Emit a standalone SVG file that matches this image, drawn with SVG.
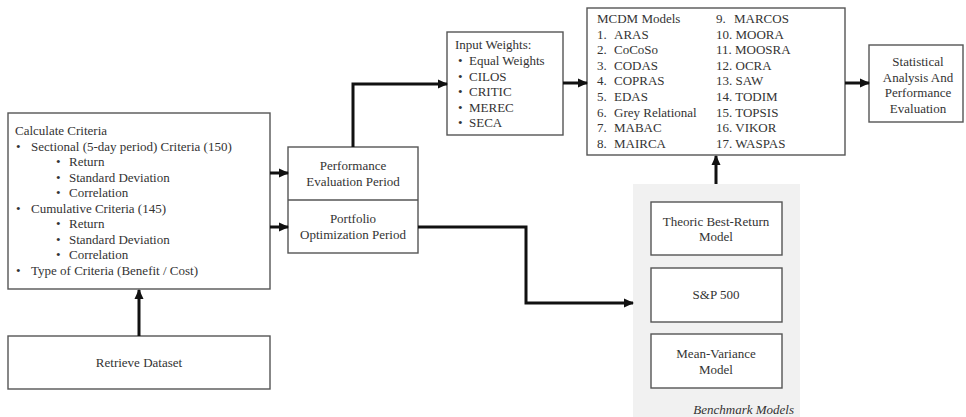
<svg xmlns="http://www.w3.org/2000/svg" width="966" height="417" viewBox="0 0 966 417">
<style>
  text { font-family: "Liberation Serif", "Times New Roman", "DejaVu Serif", serif; fill: #333; font-size: 13px; }
  .c { text-anchor: middle; }
  .box { fill: #fff; stroke: #555; stroke-width: 1.4; }
  .wire { fill: none; stroke: #111; stroke-width: 3; }
  .it { font-style: italic; text-anchor: end; }
</style>
<defs>
  <marker id="ah" markerUnits="userSpaceOnUse" markerWidth="10" markerHeight="10" refX="9" refY="5" orient="auto">
    <path d="M0,0.5 L10,5 L0,9.5 z" fill="#111"/>
  </marker>
</defs>

<g id="benchmark-panel">
  <rect x="633" y="184" width="167" height="240" fill="#f1f1f1"/>
  <text class="it" x="794" y="414">Benchmark Models</text>
</g>

<g id="calc">
  <rect class="box" x="8" y="113" width="262" height="176"/>
  <text x="15" y="135">Calculate Criteria</text>
  <text x="16" y="150.5">•</text><text x="31" y="150.5">Sectional (5-day period) Criteria (150)</text>
  <text x="56" y="166">•</text><text x="69" y="166">Return</text>
  <text x="56" y="181.5">•</text><text x="69" y="181.5">Standard Deviation</text>
  <text x="56" y="197">•</text><text x="69" y="197">Correlation</text>
  <text x="16" y="212.5">•</text><text x="31" y="212.5">Cumulative Criteria (145)</text>
  <text x="56" y="228">•</text><text x="69" y="228">Return</text>
  <text x="56" y="243.5">•</text><text x="69" y="243.5">Standard Deviation</text>
  <text x="56" y="259">•</text><text x="69" y="259">Correlation</text>
  <text x="16" y="274.5">•</text><text x="31" y="274.5">Type of Criteria (Benefit / Cost)</text>
</g>

<g id="retrieve">
  <rect class="box" x="8" y="336" width="262" height="53"/>
  <text class="c" x="139" y="367">Retrieve Dataset</text>
</g>

<g id="periods">
  <rect class="box" x="288" y="147" width="130" height="106"/>
  <line x1="288" y1="200" x2="418" y2="200" stroke="#555" stroke-width="1.4"/>
  <text class="c" x="353" y="170">Performance</text>
  <text class="c" x="353" y="186">Evaluation Period</text>
  <text class="c" x="353" y="223">Portfolio</text>
  <text class="c" x="353" y="239">Optimization Period</text>
</g>

<g id="weights">
  <rect class="box" x="447" y="32" width="116" height="103"/>
  <text x="455" y="49">Input Weights:</text>
  <text x="458" y="65">•</text><text x="469" y="65">Equal Weights</text>
  <text x="458" y="80.5">•</text><text x="469" y="80.5">CILOS</text>
  <text x="458" y="96">•</text><text x="469" y="96">CRITIC</text>
  <text x="458" y="111.5">•</text><text x="469" y="111.5">MEREC</text>
  <text x="458" y="127">•</text><text x="469" y="127">SECA</text>
</g>

<g id="mcdm">
  <rect class="box" x="587" y="8" width="258" height="147"/>
  <text x="597" y="23">MCDM Models</text>
  <text x="597" y="38.6">1.</text><text x="614" y="38.6">ARAS</text>
  <text x="597" y="54.2">2.</text><text x="614" y="54.2">CoCoSo</text>
  <text x="597" y="69.8">3.</text><text x="614" y="69.8">CODAS</text>
  <text x="597" y="85.4">4.</text><text x="614" y="85.4">COPRAS</text>
  <text x="597" y="101">5.</text><text x="614" y="101">EDAS</text>
  <text x="597" y="116.6">6.</text><text x="614" y="116.6">Grey Relational</text>
  <text x="597" y="132.2">7.</text><text x="614" y="132.2">MABAC</text>
  <text x="597" y="147.8">8.</text><text x="614" y="147.8">MAIRCA</text>
  <text x="716" y="23">9.</text><text x="734" y="23">MARCOS</text>
  <text x="716" y="38.6">10. MOORA</text>
  <text x="716" y="54.2">11. MOOSRA</text>
  <text x="716" y="69.8">12. OCRA</text>
  <text x="716" y="85.4">13. SAW</text>
  <text x="716" y="101">14. TODIM</text>
  <text x="716" y="116.6">15. TOPSIS</text>
  <text x="716" y="132.2">16. VIKOR</text>
  <text x="716" y="147.8">17. WASPAS</text>
</g>

<g id="stats">
  <rect class="box" x="869" y="45" width="94" height="77"/>
  <text class="c" x="918" y="66">Statistical</text>
  <text class="c" x="918" y="81.5">Analysis And</text>
  <text class="c" x="918" y="97">Performance</text>
  <text class="c" x="918" y="112.5">Evaluation</text>
</g>

<g id="best-return">
  <rect class="box" x="651" y="202" width="131" height="53"/>
  <text class="c" x="716" y="226">Theoric Best-Return</text>
  <text class="c" x="716" y="241">Model</text>
</g>
<g id="sp500">
  <rect class="box" x="651" y="268" width="131" height="54"/>
  <text class="c" x="716" y="299">S&amp;P 500</text>
</g>
<g id="mean-variance">
  <rect class="box" x="651" y="334" width="131" height="54"/>
  <text class="c" x="716" y="358">Mean-Variance</text>
  <text class="c" x="716" y="374">Model</text>
</g>

<g id="connectors">
  <line class="wire" x1="139" y1="336" x2="139" y2="290" marker-end="url(#ah)"/>
  <line class="wire" x1="270" y1="173" x2="288" y2="173" marker-end="url(#ah)"/>
  <line class="wire" x1="270" y1="227" x2="288" y2="227" marker-end="url(#ah)"/>
  <polyline class="wire" points="353,147 353,84 447,84" marker-end="url(#ah)"/>
  <line class="wire" x1="563" y1="83" x2="587" y2="83" marker-end="url(#ah)"/>
  <line class="wire" x1="845" y1="83" x2="869" y2="83" marker-end="url(#ah)"/>
  <polyline class="wire" points="418,227 526,227 526,303 633,303" marker-end="url(#ah)"/>
  <line class="wire" x1="716" y1="184" x2="716" y2="156" marker-end="url(#ah)"/>
</g>
</svg>
